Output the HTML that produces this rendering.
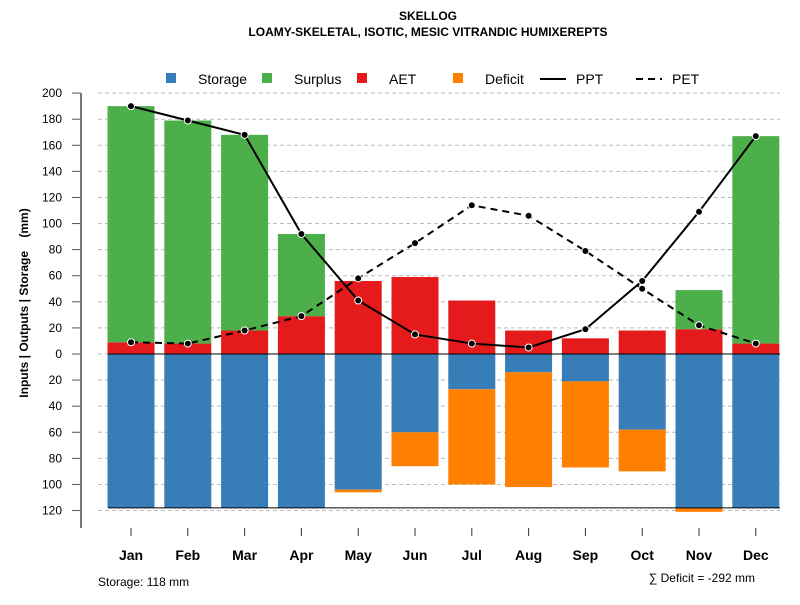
<!DOCTYPE html>
<html><head><meta charset="utf-8"><style>body{margin:0;background:#fff}svg{font-family:"Liberation Sans",sans-serif}</style></head>
<body>
<svg id="c" width="800" height="600"></svg>
<script>
const months=["Jan","Feb","Mar","Apr","May","Jun","Jul","Aug","Sep","Oct","Nov","Dec"];
const aet=[9,8,18,29,56,59,41,18,12,18,19,8];
const surplus=[181,171,150,63,0,0,0,0,0,0,30,159];
const storage=[118,118,118,118,104,60,27,14,21,58,118,118];
const deficit=[0,0,0,0,2,26,73,88,66,32,3,0];
const ppt=[190,179,168,92,41,15,8,5,19,56,109,167];
const pet=[9,8,18,29,58,85,114,106,79,50,22,8];
const yTicks=[200,180,160,140,120,100,80,60,40,20,0,-20,-40,-60,-80,-100,-120];
const storageCap=118;
const NS="http://www.w3.org/2000/svg";
const svg=document.getElementById('c');
const y=v=>354-v*1.3045;
const x=i=>131+i*56.8;
const bw=47;
function mk(t,a,p){const e=document.createElementNS(NS,t);for(const k in a)e.setAttribute(k,a[k]);(p||svg).appendChild(e);return e;}
let t;
t=mk('text',{x:428,y:20,'text-anchor':'middle','font-size':12,'font-weight':'bold'});t.textContent='SKELLOG';

t=mk('text',{x:428,y:36,'text-anchor':'middle','font-size':12,'font-weight':'bold'});t.textContent='LOAMY-SKELETAL, ISOTIC, MESIC VITRANDIC HUMIXEREPTS';

yTicks.forEach(v=>{const g=mk('line',{x1:98,x2:780,y1:y(v),y2:y(v),stroke:'#bbb','stroke-dasharray':'4,3'});

const tk=mk('line',{x1:72,x2:81,y1:y(v),y2:y(v),stroke:'#555'});

const l=mk('text',{x:62,y:y(v)+4,'text-anchor':'end','font-size':12});l.textContent=Math.abs(v);
});
const ax=mk('line',{x1:81,x2:81,y1:y(200),y2:528,stroke:'#777','stroke-width':2});

t=mk('text',{transform:'translate(28,303) rotate(-90)','text-anchor':'middle','font-size':12,'font-weight':'bold'});t.textContent='Inputs | Outputs | Storage\u00a0\u00a0\u00a0\u00a0(mm)';

months.forEach((m,i)=>{const cx=x(i),l=cx-bw/2;
let r=mk('rect',{x:l,y:y(0),width:bw,height:y(-storage[i])-y(0),fill:'#377EB8'});

if(deficit[i]>0){r=mk('rect',{x:l,y:y(-storage[i]),width:bw,height:y(-storage[i]-deficit[i])-y(-storage[i]),fill:'#FF7F00'});
}
r=mk('rect',{x:l,y:y(aet[i]),width:bw,height:y(0)-y(aet[i]),fill:'#E41A1C'});

if(surplus[i]>0){r=mk('rect',{x:l,y:y(aet[i]+surplus[i]),width:bw,height:y(aet[i])-y(aet[i]+surplus[i]),fill:'#4DAF4A'});
}
const tk=mk('line',{x1:cx,x2:cx,y1:528,y2:536,stroke:'#333'});

const lb=mk('text',{x:cx,y:560,'text-anchor':'middle','font-size':14,'font-weight':'bold'});lb.textContent=m;
});
let ln=mk('line',{x1:108,x2:780,y1:y(0),y2:y(0),stroke:'#000'});

ln=mk('line',{x1:108,x2:780,y1:y(-storageCap),y2:y(-storageCap),stroke:'#000'});

function series(vals,dash,name){const p=mk('polyline',{points:vals.map((v,i)=>x(i)+','+y(v)).join(' '),fill:'none',stroke:'#000','stroke-width':2,'stroke-dasharray':dash});

vals.forEach((v,i)=>{const c=mk('circle',{cx:x(i),cy:y(v),r:3.5,fill:'#000',stroke:'#fff','stroke-width':1});
});}
series(pet,'7,5','pet');series(ppt,'none','ppt');
const leg=[['Storage','#377EB8',166,'rect'],['Surplus','#4DAF4A',262,'rect'],['AET','#E41A1C',357,'rect'],['Deficit','#FF7F00',453,'rect'],['PPT','',540,'line'],['PET','',636,'dash']];
leg.forEach(([n,c,lx,k])=>{const g=mk('g',{});
if(k==='rect')mk('rect',{x:lx,y:73,width:10,height:10,fill:c},g);
else mk('line',{x1:lx,x2:lx+26,y1:79,y2:79,stroke:'#000','stroke-width':2,'stroke-dasharray':k==='dash'?'7,5':'none'},g);
const tt=mk('text',{x:k==='rect'?lx+32:lx+36,y:84,'font-size':14},g);tt.textContent=n;});
t=mk('text',{x:98,y:586,'font-size':12});t.textContent='Storage: 118 mm';

t=mk('text',{x:755,y:582,'text-anchor':'end','font-size':12});t.textContent='∑ Deficit = -292 mm';

</script>
</body></html>
